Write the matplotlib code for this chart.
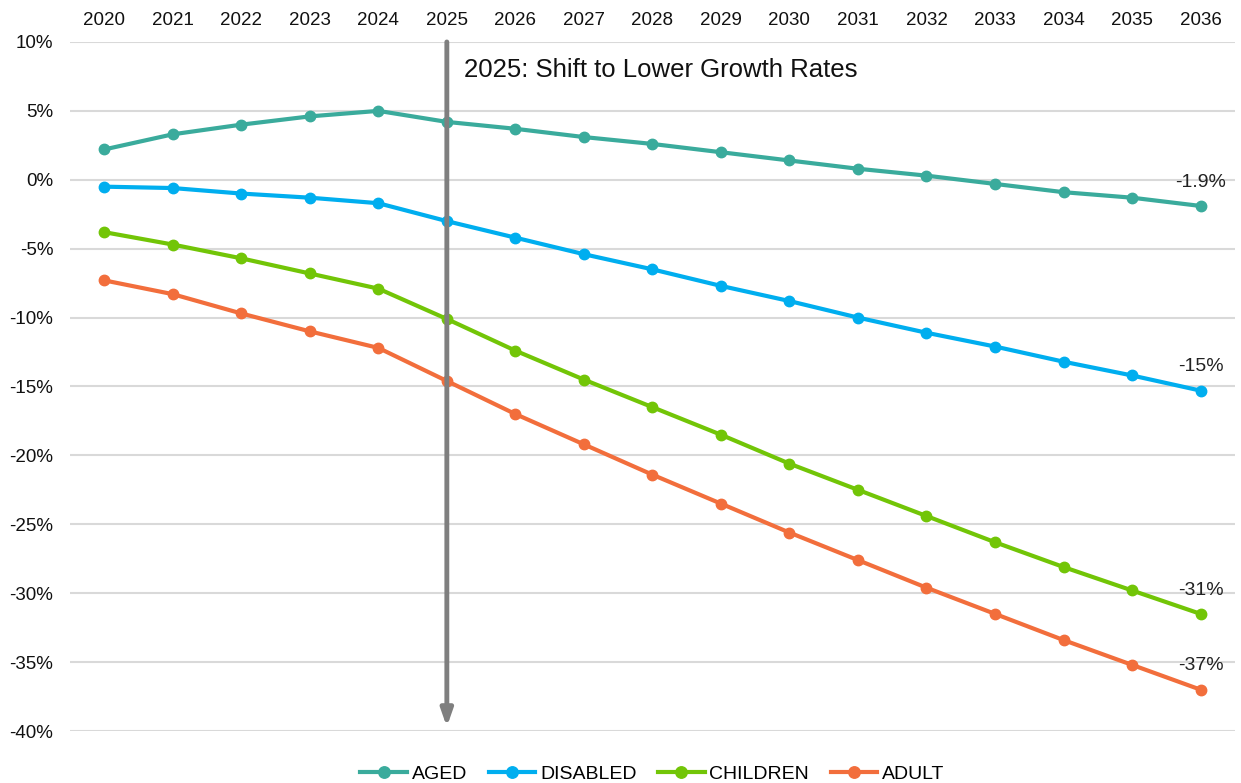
import matplotlib
matplotlib.use('Agg')
import matplotlib.pyplot as plt
from matplotlib.ticker import FuncFormatter

plt.rcParams['font.family'] = ['Liberation Sans', 'DejaVu Sans']

years = list(range(2020, 2037))
aged = [2.2, 3.3, 4.0, 4.6, 5.0, 4.2, 3.7, 3.1, 2.6, 2.0, 1.4, 0.8, 0.3,
        -0.3, -0.9, -1.3, -1.9]
disabled = [-0.5, -0.6, -1.0, -1.3, -1.7, -3.0, -4.2, -5.4, -6.5, -7.7, -8.8,
            -10.0, -11.1, -12.1, -13.2, -14.2, -15.3]
children = [-3.8, -4.7, -5.7, -6.8, -7.9, -10.1, -12.4, -14.5, -16.5, -18.5,
            -20.6, -22.5, -24.4, -26.3, -28.1, -29.8, -31.5]
adult = [-7.3, -8.3, -9.7, -11.0, -12.2, -14.6, -17.0, -19.2, -21.4, -23.5,
         -25.6, -27.6, -29.6, -31.5, -33.4, -35.2, -37.0]

series = [('AGED', aged, '#3AAB9C'),
          ('DISABLED', disabled, '#00AEEF'),
          ('CHILDREN', children, '#72C507'),
          ('ADULT', adult, '#F26E3C')]
end_labels = ['-1.9%', '-15%', '-31%', '-37%']

fig = plt.figure(figsize=(12.41, 7.83), dpi=100)
ax = fig.add_axes([0.0564, 0.0664, 0.9386, 0.88])

for (name, vals, col), lab in zip(series, end_labels):
    ax.plot(years, vals, color=col, lw=3, marker='o', ms=7.5, label=name)
    ax.annotate(lab, (years[-1], vals[-1]), xytext=(0, 11),
                textcoords='offset points', ha='center', va='bottom',
                fontsize=14, color='#222222')

# vertical arrow at 2025
ax.annotate('', xy=(2025, -39.7), xytext=(2025, 10),
            arrowprops=dict(arrowstyle='-|>,head_width=0.35,head_length=1.0',
                            color='#7F7F7F', lw=3.5, shrinkA=0, shrinkB=0))
ax.text(2025.25, 8.0, '2025: Shift to Lower Growth Rates', fontsize=18.5,
        va='center', ha='left', color='#111111')

ax.set_xlim(2019.5, 2036.5)
ax.set_ylim(-40, 10)
ax.set_yticks(range(-40, 11, 5))
ax.yaxis.set_major_formatter(FuncFormatter(lambda v, p: f'{int(v)}%'))
ax.set_xticks(years)
ax.xaxis.tick_top()
ax.tick_params(axis='both', length=0, labelsize=13.5, colors='#111111')
ax.tick_params(axis='x', pad=9)
ax.tick_params(axis='y', pad=12)
ax.grid(axis='y', color='#D9D9D9', lw=1.5)
ax.set_axisbelow(True)
for s in ax.spines.values():
    s.set_visible(False)

ax.legend(loc='upper center', bbox_to_anchor=(0.5, -0.024), ncol=4,
          frameon=False, fontsize=14, handlelength=2.4, columnspacing=1.1,
          handletextpad=0.25, markerscale=1.1)

fig.savefig('out.png', dpi=100)
